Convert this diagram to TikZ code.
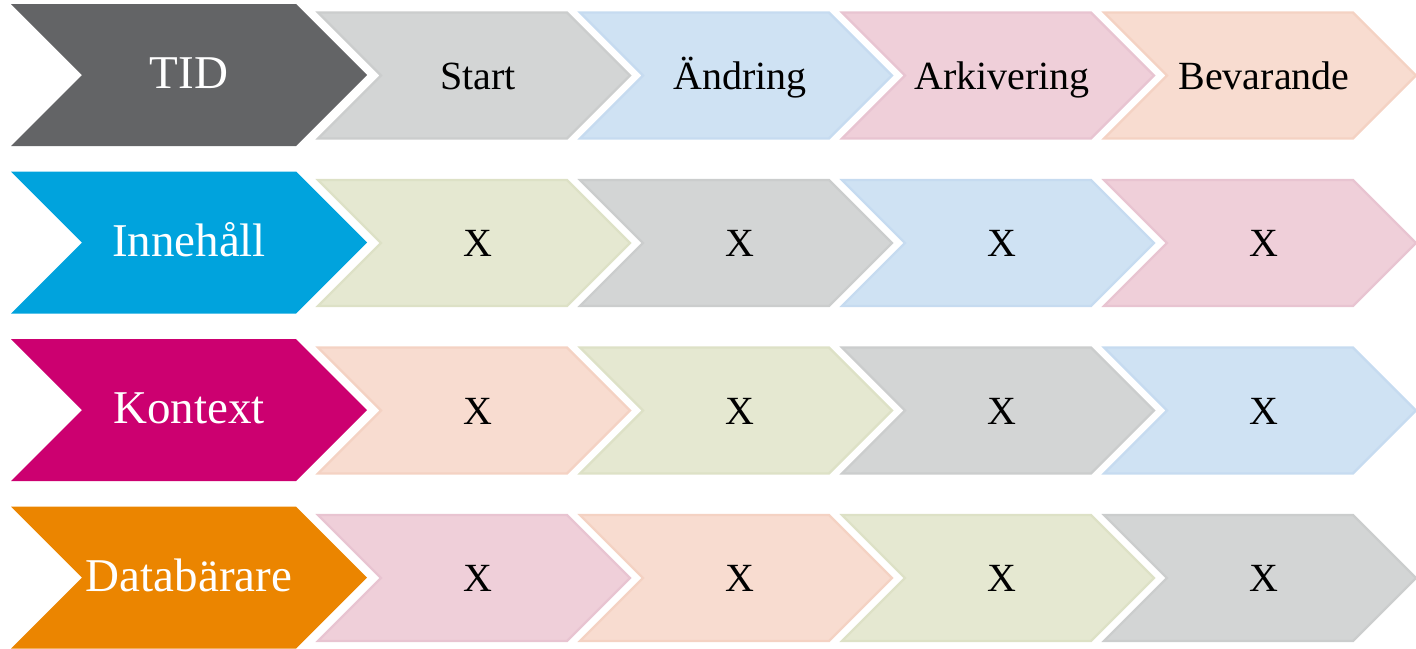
\documentclass[tikz,border=0pt]{standalone}
\usepackage{fontspec}
\setmainfont{Liberation Serif}
\definecolor{tidgray}{HTML}{636466}
\definecolor{cyanc}{HTML}{00A3DD}
\definecolor{magc}{HTML}{CC0070}
\definecolor{orc}{HTML}{EB8500}
\definecolor{sgray}{HTML}{D3D5D5}\definecolor{sgrayb}{HTML}{CBCDCD}
\definecolor{sblue}{HTML}{CFE2F3}\definecolor{sblueb}{HTML}{C6DBF0}
\definecolor{spink}{HTML}{EFCFD9}\definecolor{spinkb}{HTML}{E8C4D1}
\definecolor{speach}{HTML}{F8DCD0}\definecolor{speachb}{HTML}{F4D2C3}
\definecolor{sgreen}{HTML}{E5E8D1}\definecolor{sgreenb}{HTML}{DDE1C6}
\tikzset{
  bigtxt/.style={anchor=base, inner sep=0pt, text=white, font=\fontsize{47}{50}\selectfont},
  smalltxt/.style={anchor=base, inner sep=0pt, text=black, font=\fontsize{40}{44}\selectfont},
  bigchev/.style={fill=#1},
  smallchev/.style={fill=s#1, draw=s#1b, line width=2.2pt, line join=miter},
}
% #1 x, #2 top y, #3 width, #4 height, #5 shape style, #6 text style, #7 name, #8 text, #9 baseline offset
\newcommand\chevdraw[9]{%
  \path[#5] (#1,#2) -- ++(#3-#4/2,0) -- ++(#4/2,#4/2) -- ++(-#4/2,#4/2)
     -- ++(-#3+#4/2,0) -- ++(#4/2,-#4/2) -- cycle;
  \node[#6] (#7) at (#1+#3/2+#9, #2+#4/2+13.5) {#8};
}
\begin{document}
\begin{tikzpicture}[x=1pt,y=-1pt]
\useasboundingbox (0,0) rectangle (1416,648);
% big chevrons
\chevdraw{11}{4}{356}{142}{bigchev=tidgray}{bigtxt}{tid}{TID}{0}
\chevdraw{11}{171.5}{356}{142}{bigchev=cyanc}{bigtxt}{inn}{Innehåll}{0}
\chevdraw{11}{339}{356}{142}{bigchev=magc}{bigtxt}{kon}{Kontext}{0}
\chevdraw{11}{506.5}{356}{142}{bigchev=orc}{bigtxt}{dat}{Databärare}{0}
% row 1
\chevdraw{318}{12.5}{312}{126}{smallchev=gray}{smalltxt}{r1a}{Start}{4}
\chevdraw{580}{12.5}{312}{126}{smallchev=blue}{smalltxt}{r1b}{Ändring}{4}
\chevdraw{842}{12.5}{312}{126}{smallchev=pink}{smalltxt}{r1c}{Arkivering}{4}
\chevdraw{1104}{12.5}{312}{126}{smallchev=peach}{smalltxt}{r1d}{Bevarande}{4}
% row 2
\chevdraw{318}{180}{312}{126}{smallchev=green}{smalltxt}{r2a}{X}{4}
\chevdraw{580}{180}{312}{126}{smallchev=gray}{smalltxt}{r2b}{X}{4}
\chevdraw{842}{180}{312}{126}{smallchev=blue}{smalltxt}{r2c}{X}{4}
\chevdraw{1104}{180}{312}{126}{smallchev=pink}{smalltxt}{r2d}{X}{4}
% row 3
\chevdraw{318}{347.5}{312}{126}{smallchev=peach}{smalltxt}{r3a}{X}{4}
\chevdraw{580}{347.5}{312}{126}{smallchev=green}{smalltxt}{r3b}{X}{4}
\chevdraw{842}{347.5}{312}{126}{smallchev=gray}{smalltxt}{r3c}{X}{4}
\chevdraw{1104}{347.5}{312}{126}{smallchev=blue}{smalltxt}{r3d}{X}{4}
% row 4
\chevdraw{318}{515}{312}{126}{smallchev=pink}{smalltxt}{r4a}{X}{4}
\chevdraw{580}{515}{312}{126}{smallchev=peach}{smalltxt}{r4b}{X}{4}
\chevdraw{842}{515}{312}{126}{smallchev=green}{smalltxt}{r4c}{X}{4}
\chevdraw{1104}{515}{312}{126}{smallchev=gray}{smalltxt}{r4d}{X}{4}
\end{tikzpicture}
\end{document}
